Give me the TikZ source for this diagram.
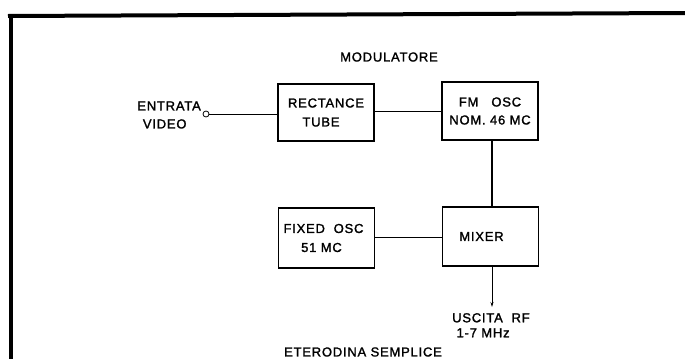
\documentclass[tikz,border=0pt]{standalone}
\usepackage{fontspec}
\setmainfont{Liberation Sans}[LetterSpace=6,FakeBold=1.6]
\usetikzlibrary{arrows.meta}
\begin{document}
\begin{tikzpicture}[x=1pt,y=-1pt,
  blk/.style={draw,line width=1.4pt,minimum width=96pt,align=center,font=\fontsize{13}{15}\selectfont,inner sep=0pt},
  lbl/.style={font=\fontsize{13}{15}\selectfont,align=center,inner sep=0pt},
  wire/.style={line width=0.8pt}]
\useasboundingbox (0,0) rectangle (685,359);
\fill[white] (0,0) rectangle (685,359);
% frame
\draw[line width=4pt] (8,16) -- (685,13);
\draw[line width=4.5pt] (11,14) -- (11,359);
% blocks
\node[blk,minimum height=57pt] (rt) at (326,112.5) {RECTANCE\\[4pt]TUBE\hspace*{10pt}};
\node[blk,minimum height=58pt] (fm) at (490,111) {FM\quad OSC\\[3pt]NOM. 46 MC};
\node[blk,minimum height=60pt] (fx) at (326.5,238) {FIXED\ \ OSC\hspace*{6pt}\\[4pt]51 MC\hspace*{10pt}};
\node[blk,minimum height=59pt] (mx) at (490.5,236.5) {MIXER\hspace*{18pt}};
% labels
\node[lbl] (mod) at (389,57) {MODULATORE};
\node[lbl,anchor=east] (in) at (201,115) {ENTRATA\\[3pt]VIDEO\ \ \ };
\node[draw,circle,line width=0.8pt,minimum size=6pt,inner sep=0pt] (jack) at (206,114) {};
\node[lbl,anchor=north west,align=left] (out) at (452,313) {USCITA\ \ RF\\[0pt]\ 1-7 MHz};
\node[lbl] (ete) at (363,352) {ETERODINA SEMPLICE};
\coordinate (arr) at (492,307);
% connectors
\draw[wire] (jack) -- (rt.west |- jack);
\draw[wire] (rt.east |- 0,111) -- (fm.west |- 0,111);
\draw[line width=1.2pt] (492,0 |- fm.south) -- (492,0 |- mx.north);
\draw[wire] (fx.east |- 0,237) -- (mx.west |- 0,237);
\draw[wire,-{Stealth[length=5pt,width=3pt]}] (492,0 |- mx.south) -- (arr);
\end{tikzpicture}
\end{document}
